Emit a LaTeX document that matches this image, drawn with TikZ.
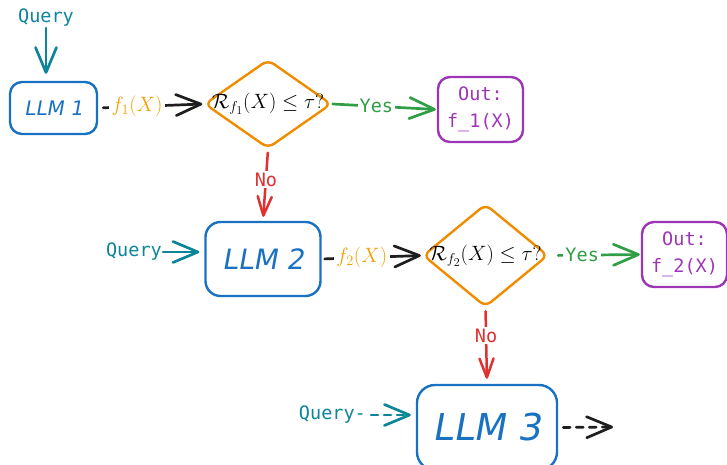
\documentclass[tikz,border=0pt]{standalone}
\usepackage{fontspec}
\setmainfont{DejaVu Sans}
\newfontfamily\monof{DejaVu Sans Mono}
\newfontfamily\handf[FakeSlant=0.18]{DejaVu Sans}
\usetikzlibrary{shapes.geometric,arrows.meta}
\definecolor{cblue}{HTML}{1971C2}
\definecolor{cteal}{HTML}{0C8599}
\definecolor{corange}{HTML}{F08C00}
\definecolor{cyel}{HTML}{F59F00}
\definecolor{cgreen}{HTML}{2F9E44}
\definecolor{cred}{HTML}{E03131}
\definecolor{cpurple}{HTML}{9C36B5}
\definecolor{cblack}{HTML}{1E1E1E}
\begin{document}
\begin{tikzpicture}[x=1pt,y=-1pt,
  llmbox/.style={draw=cblue, line width=2.4pt, inner sep=0pt, text=cblue},
  outbox/.style={draw=cpurple, line width=2.4pt, rounded corners=12pt, inner sep=0pt,
    text=cpurple, align=center, minimum width=85pt, minimum height=65pt,
    font=\monof\fontsize{18.5}{27}\selectfont},
  dia/.style={draw=corange, diamond, line width=2.4pt, rounded corners=7pt, inner sep=0pt},
  mtext/.style={inner sep=0pt, font=\fontsize{20.74}{24}\selectfont},
  qtext/.style={text=cteal, inner sep=1pt, font=\monof\fontsize{18.5}{21}\selectfont},
  arr/.style={line width=2.7pt, line cap=round, -{Straight Barb[round,length=25pt,width=21pt]}},
  sarr/.style={line width=2.5pt, line cap=round, -{Straight Barb[round,length=19pt,width=14pt]}},
  lab/.style={fill=white, inner sep=2.5pt, font=\fontsize{20.74}{24}\selectfont},
  wlab/.style={fill=white, inner sep=2pt, font=\monof\fontsize{18.5}{21}\selectfont},
  dsh/.style={dash pattern=on 7pt off 6pt}
]
\useasboundingbox (0,0) rectangle (727,465);
\clip (0,0) rectangle (727,465);

% nodes
\node[qtext] (q1) at (46,18) {Query};
\node[llmbox, rounded corners=12pt, minimum width=87pt, minimum height=52pt,
  font=\handf\fontsize{20}{24}\selectfont] (l1) at (53.5,108) {LLM 1};
\node[dia, minimum width=127pt, minimum height=89pt] (d1) at (268,104) {};
\node[mtext] (t1) at (d1) {$\mathcal{R}_{f_1}(X)\le\tau?$};
\node[outbox] (o1) at (480.5,109.5) {Out:\\f\_1(X)};

\node[llmbox, rounded corners=15pt, minimum width=115pt, minimum height=74pt,
  font=\handf\fontsize{28}{32}\selectfont] (l2) at (263,259) {LLM 2};
\node[qtext, anchor=east] (q2) at (163,252) {Query};
\node[dia, minimum width=125pt, minimum height=103pt] (d2) at (485.5,255.5) {};
\node[mtext] (t2) at (d2) {$\mathcal{R}_{f_2}(X)\le\tau?$};
\node[outbox] (o2) at (684.5,254.5) {Out:\\f\_2(X)};

\node[llmbox, rounded corners=18pt, minimum width=140pt, minimum height=85pt,
  font=\handf\fontsize{37}{42}\selectfont] (l3) at (487,427.5) {LLM 3};
\node[qtext, anchor=east] (q3) at (367,415) {Query-};
\coordinate (endc) at (613,427);

% connectors
\draw[arr, cteal, shorten >=7pt] (q1) -- (q1 |- l1.north);
\draw[arr, cblack, shorten <=5pt, shorten >=1pt] (l1.east) -- (d1.west)
  node[lab, pos=0.37, text=cyel] {$f_1(X)$};
\draw[arr, cgreen, shorten >=1pt] (d1.east) -- (o1.west)
  node[wlab, pos=0.42, text=cgreen] {Yes};
\draw[sarr, cred, shorten <=3pt, shorten >=4pt] (d1.south) -- (l2.north)
  node[wlab, pos=0.42, text=cred] {No};

\draw[arr, cteal, shorten >=5pt] (q2.east) -- (l2.west |- q2.east);
\draw[arr, cblack, shorten <=3pt, shorten >=1pt] (l2.east) -- (d2.west)
  node[lab, pos=0.4, text=cyel, font=\fontsize{20}{24}\selectfont] {$f_2(X)$};
\draw[arr, cgreen, shorten <=9pt, shorten >=1pt] (d2.east) -- (o2.west)
  node[wlab, pos=0.36, text=cgreen] {Yes};
\draw[sarr, cred, shorten <=3pt, shorten >=5pt] (d2.south) -- (l3.north)
  node[wlab, pos=0.36, text=cred] {No};

\draw[arr, dsh, cteal, shorten <=4pt, shorten >=5pt] (q3.east) -- (l3.west |- q3.east);
\draw[arr, dsh, cblack, shorten <=5pt] (l3.east) -- (endc);
\end{tikzpicture}
\end{document}
